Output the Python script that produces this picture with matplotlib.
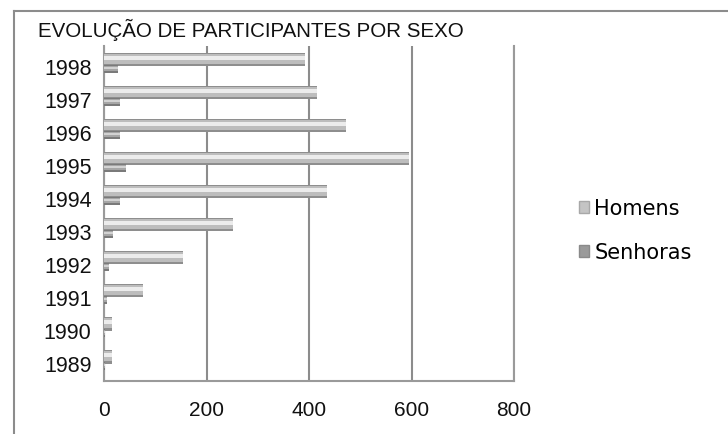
import numpy as np
import matplotlib.pyplot as plt
from matplotlib.patches import Patch
from matplotlib.lines import Line2D

# dados
anos = ['1989', '1990', '1991', '1992', '1993', '1994', '1995', '1996', '1997', '1998']
homens = [15, 15, 76, 154, 252, 435, 595, 472, 415, 392]
senhoras = [2, 2, 5, 10, 18, 32, 42, 32, 32, 28]

titulo = "EVOLUÇÃO DE PARTICIPANTES POR SEXO"
xticks = [0, 200, 400, 600, 800]

fig = plt.figure(figsize=(7.28, 4.35), dpi=100)
ax = fig.add_axes([104 / 728, 1 - 382 / 435, 410 / 728, (382 - 47) / 435])

y = np.arange(len(anos))
off_h = 0.18
off_s = -0.1

# barras "cilindricas": camadas sobrepostas para imitar o degrade
ax.barh(y + off_h, homens, height=0.40, color='#8e8e8e', zorder=3)
ax.barh(y + off_h + 0.02, homens, height=0.30, color='#bdbdbd', zorder=3)
ax.barh(y + off_h + 0.06, homens, height=0.14, color='#ececec', zorder=3)

ax.barh(y + off_s, senhoras, height=0.24, color='#7a7a7a', zorder=3)
ax.barh(y + off_s + 0.01, senhoras, height=0.16, color='#a6a6a6', zorder=3)
ax.barh(y + off_s + 0.04, senhoras, height=0.07, color='#d2d2d2', zorder=3)

ax.set_xlim(0, 800)
ax.set_ylim(-0.55, 9.6)
ax.set_xticks(xticks)
ax.set_xticklabels([str(t) for t in xticks], fontsize=15, family='Liberation Sans')
ax.set_yticks(y)
ax.set_yticklabels(anos, fontsize=15.5, family='Liberation Sans')
ax.tick_params(length=0, colors='#111111')
ax.tick_params(axis='y', pad=9)
ax.tick_params(axis='x', pad=14)

ax.grid(axis='x', color='#8c8c8c', linewidth=1.5, zorder=0)
ax.spines['top'].set_visible(False)
for s in ['left', 'right', 'bottom']:
    ax.spines[s].set_color('#9a9a9a')
    ax.spines[s].set_linewidth(1.5)

fig.text(38 / 728, 1 - 30 / 435, titulo, fontsize=14.8, family='Liberation Sans',
         va='center', ha='left', color='#111111')

# moldura exterior (cortada a direita e em baixo)
fig.add_artist(Line2D([14 / 728, 14 / 728], [0, 1 - 12 / 435], color='#8c8c8c', lw=1.5))
fig.add_artist(Line2D([14 / 728, 1], [1 - 12 / 435, 1 - 12 / 435], color='#8c8c8c', lw=1.5))

handles = [Patch(facecolor='#c4c4c4', edgecolor='#a8a8a8', label='Homens'),
           Patch(facecolor='#9a9a9a', edgecolor='#8a8a8a', label='Senhoras')]
fig.legend(handles=handles, loc='center left', bbox_to_anchor=(560 / 728, 1 - 231 / 435),
           frameon=False, fontsize=15, handlelength=0.5, handleheight=0.5,
           handletextpad=0.25, labelspacing=1.15)

plt.savefig('out.png', dpi=100)
